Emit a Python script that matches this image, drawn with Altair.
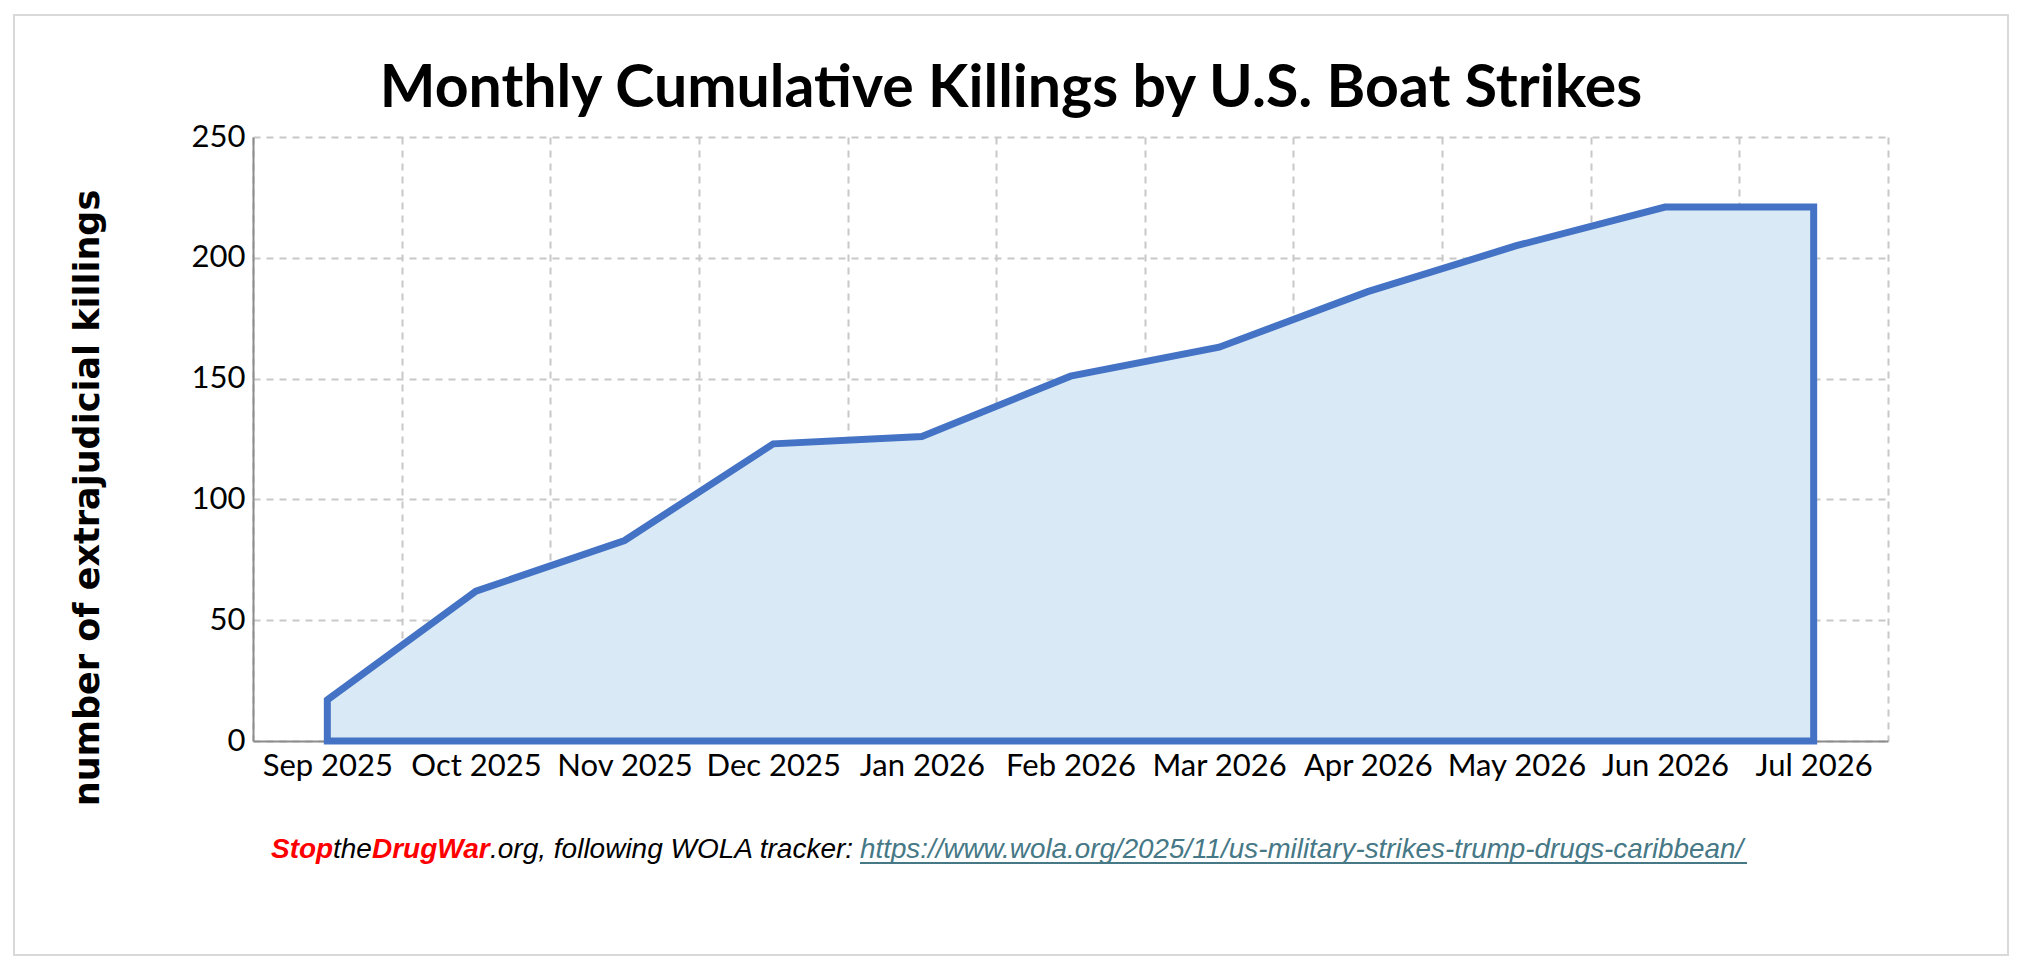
import altair as alt
import pandas as pd

months = ["Sep 2025", "Oct 2025", "Nov 2025", "Dec 2025", "Jan 2026", "Feb 2026",
          "Mar 2026", "Apr 2026", "May 2026", "Jun 2026", "Jul 2026"]
killings = [17, 62, 83, 123, 126, 151, 163, 186, 205, 221, 221]
y_ticks = [0, 50, 100, 150, 200, 250]

title_text = "Monthly Cumulative Killings by U.S. Boat Strikes"
y_title = "number of extrajudicial killings"
footer_parts = ["Stop", "the", "DrugWar", ".org, following WOLA tracker: ",
                "https://www.wola.org/2025/11/us-military-strikes-trump-drugs-caribbean/"]

df = pd.DataFrame({"month": months, "killings": killings})
one = pd.DataFrame({"k": [0]})

W, H = 1635, 604

area = alt.Chart(df).mark_area(
    fill="#d9e9f6", stroke="#4472c4", strokeWidth=7, strokeJoin="miter"
).encode(
    x=alt.X("month:N", sort=months, bandPosition=0.5,
            scale=alt.Scale(paddingInner=0, paddingOuter=0),
            axis=alt.Axis(title=None, labelAngle=0, labelFont="Lato", labelFontSize=31,
                          labelColor="#000000", labelPadding=10, ticks=False,
                          tickBand="extent", grid=True, gridDash=[7, 6],
                          gridColor="#c8c8c8", gridWidth=2, domainColor="#8c8c8c",
                          domainWidth=2)),
    y=alt.Y("killings:Q", scale=alt.Scale(domain=[0, 250], nice=False),
            axis=alt.Axis(title=None, values=y_ticks, labelFont="Lato", labelFontSize=31,
                          labelColor="#000000", labelPadding=8, ticks=False,
                          grid=True, gridDash=[7, 6], gridColor="#c8c8c8", gridWidth=2,
                          domainColor="#8c8c8c", domainWidth=2)),
)

border = alt.Chart(one).mark_rect(
    fill="transparent", stroke="#d9d9d9", strokeWidth=2
).encode(x=alt.value(-239), x2=alt.value(1755), y=alt.value(-122), y2=alt.value(818))

title = alt.Chart(one).mark_text(
    text=title_text, font="Lato", fontWeight="bold", fontSize=59, color="#000000",
    align="center", baseline="alphabetic"
).encode(x=alt.value(758), y=alt.value(-30))

ytitle = alt.Chart(one).mark_text(
    text=y_title, font="DejaVu Sans", fontWeight="bold", fontSize=35, color="#000000",
    align="center", baseline="middle", angle=270
).encode(x=alt.value(-165), y=alt.value(361))

foot_x = [18, 80, 119, 237, 607]
foot_color = ["#ff0000", "#000000", "#ff0000", "#000000", "#467886"]
foot_weight = ["bold", "normal", "bold", "normal", "normal"]
foot_size = [28, 28, 28, 28, 27.8]
foot_layers = []
for t, fx, c, w, s in zip(footer_parts, foot_x, foot_color, foot_weight, foot_size):
    foot_layers.append(
        alt.Chart(one).mark_text(
            text=t, font="Liberation Sans", fontStyle="italic", fontWeight=w,
            fontSize=s, color=c, align="left", baseline="alphabetic"
        ).encode(x=alt.value(fx), y=alt.value(721))
    )
underline = alt.Chart(one).mark_rule(color="#467886", strokeWidth=2).encode(
    x=alt.value(607), x2=alt.value(1494), y=alt.value(726)
)

chart = alt.layer(border, area, title, ytitle, *foot_layers, underline).properties(
    width=W, height=H, padding={"left": 5, "top": 6, "right": 0, "bottom": 0},
    background="#ffffff"
).configure_view(stroke=None)

chart.save("out.html", embed_options={"renderer": "svg", "actions": False})
